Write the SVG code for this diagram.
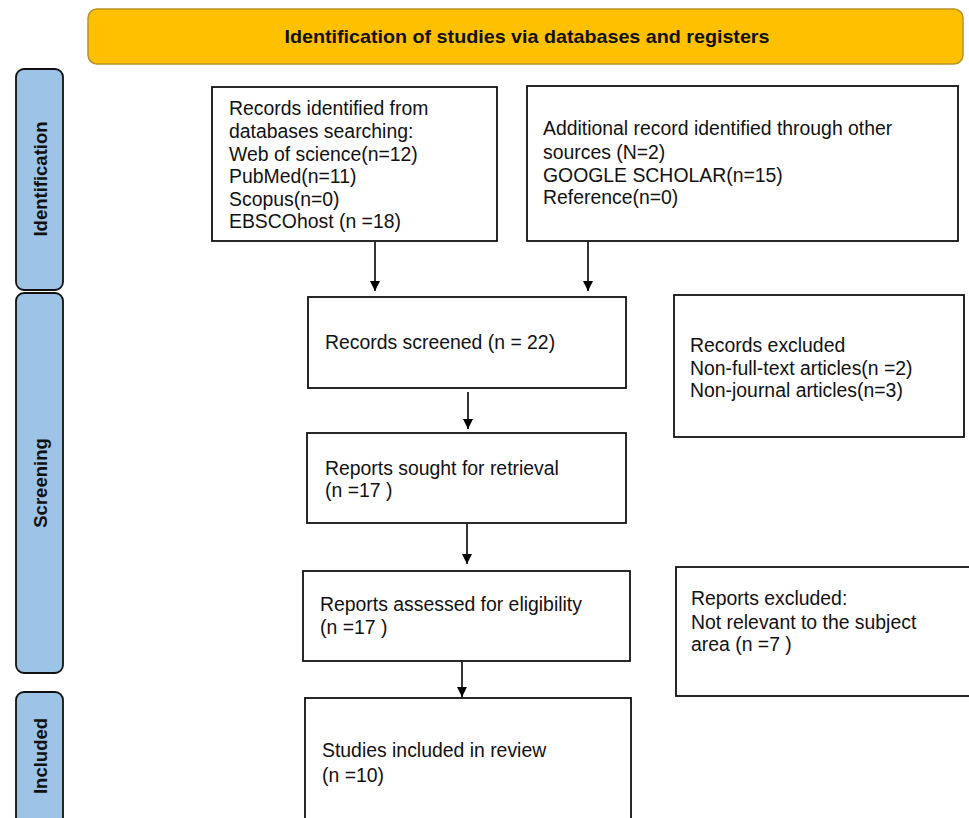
<svg xmlns="http://www.w3.org/2000/svg" width="969" height="818" viewBox="0 0 969 818">
<defs>
<marker id="ah" viewBox="0 0 10 10" refX="10" refY="5" markerWidth="10" markerHeight="10" markerUnits="userSpaceOnUse" orient="auto">
<path d="M0,0 L10,5 L0,10 z" fill="#000"/>
</marker>
<style>
.box{fill:#fff;stroke:#111;stroke-width:1.8}
.side{fill:#9DC3E6;stroke:#111;stroke-width:1.8}
.t{font-family:"Liberation Sans",Arial,sans-serif;font-size:19.4px;fill:#111}
.st{font-family:"Liberation Sans",Arial,sans-serif;font-size:18.5px;font-weight:bold;fill:#111}
.conn{stroke:#000;stroke-width:1.6;fill:none;marker-end:url(#ah)}
</style>
</defs>
<rect width="969" height="818" fill="#fff"/>
<g id="banner">
<rect x="88" y="9" width="875" height="55" rx="9" fill="#FFC000" stroke="#B8922A" stroke-width="1.5"/>
<text x="527" y="43" text-anchor="middle" font-family="'Liberation Sans',Arial,sans-serif" font-weight="bold" font-size="19px" fill="#111" textLength="485" lengthAdjust="spacingAndGlyphs">Identification of studies via databases and registers</text>
</g>
<g id="phase-identification">
<rect class="side" x="16" y="69" width="47" height="221" rx="8"/>
<text class="st" transform="translate(46.5,179) rotate(-90)" text-anchor="middle">Identification</text>
</g>
<g id="phase-screening">
<rect class="side" x="16" y="293" width="47" height="380" rx="8"/>
<text class="st" transform="translate(46.5,483) rotate(-90)" text-anchor="middle">Screening</text>
</g>
<g id="phase-included">
<rect class="side" x="16" y="692" width="47" height="140" rx="8"/>
<text class="st" transform="translate(46.5,756) rotate(-90)" text-anchor="middle">Included</text>
</g>
<g id="records-identified">
<rect class="box" x="212" y="87" width="285" height="154"/>
<text class="t" x="229" y="115">Records identified from</text>
<text class="t" x="229" y="138">databases searching:</text>
<text class="t" x="229" y="161">Web of science(n=12)</text>
<text class="t" x="229" y="183">PubMed(n=11)</text>
<text class="t" x="229" y="206">Scopus(n=0)</text>
<text class="t" x="229" y="228">EBSCOhost (n =18)</text>
</g>
<g id="additional-records">
<rect class="box" x="527" y="86" width="431" height="155"/>
<text class="t" x="543" y="135">Additional record identified through other</text>
<text class="t" x="543" y="159">sources (N=2)</text>
<text class="t" x="543" y="182">GOOGLE SCHOLAR(n=15)</text>
<text class="t" x="543" y="204">Reference(n=0)</text>
</g>
<g id="records-screened">
<rect class="box" x="308" y="297" width="318" height="91"/>
<text class="t" x="325" y="349">Records screened (n = 22)</text>
</g>
<g id="records-excluded">
<rect class="box" x="674" y="295" width="290" height="142"/>
<text class="t" x="690" y="352">Records excluded</text>
<text class="t" x="690" y="375">Non-full-text articles(n =2)</text>
<text class="t" x="690" y="397">Non-journal articles(n=3)</text>
</g>
<g id="reports-sought">
<rect class="box" x="307" y="433" width="319" height="90"/>
<text class="t" x="325" y="475">Reports sought for retrieval</text>
<text class="t" x="325" y="497">(n =17 )</text>
</g>
<g id="reports-assessed">
<rect class="box" x="303" y="571" width="327" height="90"/>
<text class="t" x="320" y="611">Reports assessed for eligibility</text>
<text class="t" x="320" y="634">(n =17 )</text>
</g>
<g id="reports-excluded">
<rect class="box" x="676" y="567" width="300" height="129"/>
<text class="t" x="691" y="605">Reports excluded:</text>
<text class="t" x="691" y="629">Not relevant to the subject</text>
<text class="t" x="691" y="651">area (n =7 )</text>
</g>
<g id="studies-included">
<rect class="box" x="305" y="698" width="326" height="140"/>
<text class="t" x="322" y="757">Studies included in review</text>
<text class="t" x="322" y="782">(n =10)</text>
</g>
<g id="connectors">
<line class="conn" x1="375" y1="242" x2="375" y2="291"/>
<line class="conn" x1="588" y1="242" x2="588" y2="291"/>
<line class="conn" x1="468" y1="392" x2="468" y2="429"/>
<line class="conn" x1="467" y1="524" x2="467" y2="564"/>
<line class="conn" x1="462" y1="662" x2="462" y2="697"/>
</g>
</svg>
